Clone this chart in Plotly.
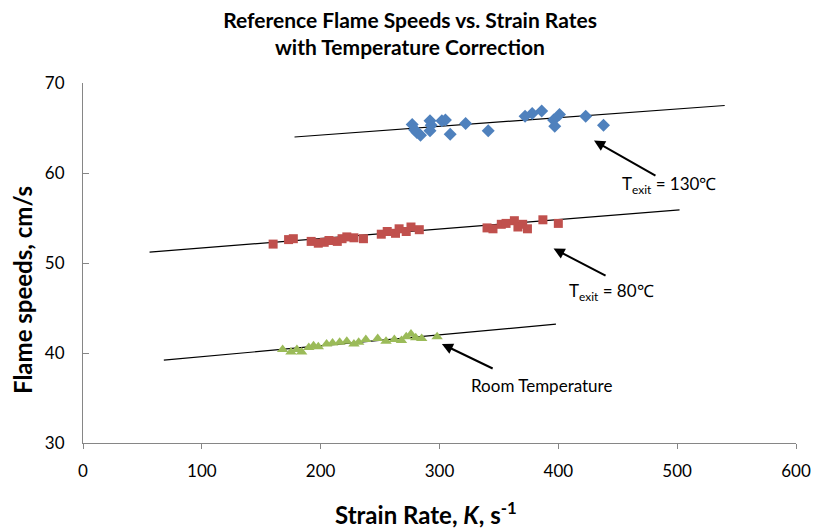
import plotly.graph_objects as go

# Data (strain rate K [1/s], flame speed [cm/s])
hot_x = [277, 279, 281, 284, 292, 293, 292, 302, 305, 309, 322, 341, 372, 378, 386, 396, 397, 401, 423, 438]
hot_y = [65.4, 64.8, 64.5, 64.2, 65.8, 65.3, 64.7, 65.8, 65.9, 64.3, 65.5, 64.7, 66.3, 66.6, 66.9, 65.9, 65.2, 66.5, 66.3, 65.3]

mid_x = [160, 173, 177, 192, 198, 203, 207, 214, 218, 222, 228, 236, 251, 256, 263, 266, 272, 276, 283,
         340, 345, 352, 356, 363, 366, 370, 374, 387, 400]
mid_y = [52.1, 52.6, 52.7, 52.4, 52.2, 52.3, 52.5, 52.4, 52.7, 52.9, 52.8, 52.7, 53.2, 53.5, 53.3, 53.8, 53.5, 54.0, 53.7,
         53.9, 53.8, 54.3, 54.4, 54.7, 54.0, 54.3, 53.8, 54.8, 54.4]

room_x = [168, 175, 180, 184, 190, 194, 198, 205, 210, 216, 222, 228, 232, 238, 248, 255, 262, 268, 272, 276, 280, 285, 298]
room_y = [40.4, 40.1, 40.4, 40.1, 40.6, 40.8, 40.7, 41.0, 41.1, 41.2, 41.3, 41.0, 41.2, 41.5, 41.6, 41.3, 41.5, 41.4, 41.8, 42.1, 41.7, 41.6, 41.8]

# Trend lines (end points)
hot_fit_x = [178, 540]
hot_fit_y = [64.0, 67.5]
mid_fit_x = [56, 502]
mid_fit_y = [51.2, 55.9]
room_fit_x = [68, 398]
room_fit_y = [39.2, 43.2]

x_ticks = [0, 100, 200, 300, 400, 500, 600]
y_ticks = [30, 40, 50, 60, 70]

FONT = "Lato"
W, H = 816, 529
L, R, T, B = 83, 20, 83, 86
PW, PH = W - L - R, H - T - B


def px_to_paper(px, py):
    return (px - L) / PW, (H - B - py) / PH


fig = go.Figure()
for fx, fy in [(hot_fit_x, hot_fit_y), (mid_fit_x, mid_fit_y), (room_fit_x, room_fit_y)]:
    fig.add_trace(go.Scatter(x=fx, y=fy, mode="lines", line=dict(color="black", width=1.2),
                             showlegend=False, hoverinfo="skip"))

fig.add_trace(go.Scatter(x=hot_x, y=hot_y, mode="markers", name="130",
                         marker=dict(symbol="diamond", size=10, color="#4F81BD")))
fig.add_trace(go.Scatter(x=mid_x, y=mid_y, mode="markers", name="80",
                         marker=dict(symbol="square", size=9, color="#C0504D")))
fig.add_trace(go.Scatter(x=room_x, y=room_y, mode="markers", name="room",
                         marker=dict(symbol="triangle-up", size=10, color="#9BBB59")))

ann_font = dict(family=FONT, size=17, color="black")
arrow = dict(text="", showarrow=True, arrowhead=2, arrowsize=1.1, arrowwidth=2, arrowcolor="black",
             xref="x", yref="y", axref="x", ayref="y")

t2x, t2y = px_to_paper(410, 47)
xtx, xty = px_to_paper(426, 513)
ytx, yty = px_to_paper(22, 290)

annotations = [
    dict(x=430, y=63.6, ax=483, ay=59.6, **arrow),
    dict(x=493, y=58.7, text="T<sub>exit</sub> = 130℃", showarrow=False, font=ann_font, xref="x", yref="y"),
    dict(x=396, y=51.6, ax=441, ay=48.5, **arrow),
    dict(x=445, y=46.8, text="T<sub>exit</sub> = 80℃", showarrow=False, font=ann_font, xref="x", yref="y"),
    dict(x=302, y=41.0, ax=346, ay=38.2, **arrow),
    dict(x=386, y=36.4, text="Room Temperature", showarrow=False, font=ann_font, xref="x", yref="y"),
    # second title line
    dict(x=t2x, y=t2y, xref="paper", yref="paper", xanchor="center", yanchor="middle",
         text="<b>with Temperature Correction</b>", showarrow=False,
         font=dict(family=FONT, size=21, color="black")),
    # axis titles
    dict(x=xtx, y=xty, xref="paper", yref="paper", xanchor="center", yanchor="middle",
         text="<b>Strain Rate, <i>K</i>, s<sup>-1</sup></b>", showarrow=False,
         font=dict(family=FONT, size=24, color="black")),
    dict(x=ytx, y=yty, xref="paper", yref="paper", xanchor="center", yanchor="middle", textangle=-90,
         text="<b>Flame speeds, cm/s</b>", showarrow=False,
         font=dict(family=FONT, size=24, color="black")),
]

fig.update_layout(
    width=W, height=H,
    margin=dict(l=L, r=R, t=T, b=B, autoexpand=False),
    paper_bgcolor="white", plot_bgcolor="white",
    showlegend=False,
    font=dict(family=FONT, color="black"),
    title=dict(text="<b>Reference Flame Speeds vs. Strain Rates</b>",
               x=410 / W, xanchor="center", y=1 - 21 / H, yanchor="middle",
               font=dict(family=FONT, size=21, color="black")),
    xaxis=dict(range=[0, 600], tickvals=x_ticks, showgrid=False, zeroline=False,
               showline=True, linecolor="#868686", linewidth=1,
               ticks="outside", ticklen=5, tickcolor="#868686",
               ticklabelstandoff=8, automargin=False,
               tickfont=dict(family=FONT, size=17)),
    yaxis=dict(range=[30, 70], tickvals=y_ticks, showgrid=False, zeroline=False,
               showline=True, linecolor="#868686", linewidth=1,
               ticks="inside", ticklen=6, tickcolor="#868686",
               ticklabelstandoff=14, automargin=False,
               tickfont=dict(family=FONT, size=17)),
    annotations=annotations,
)

fig.write_html("out.html",
               config={"displayModeBar": False},
               post_script="document.body.style.margin='0';document.body.style.overflow='hidden';")
